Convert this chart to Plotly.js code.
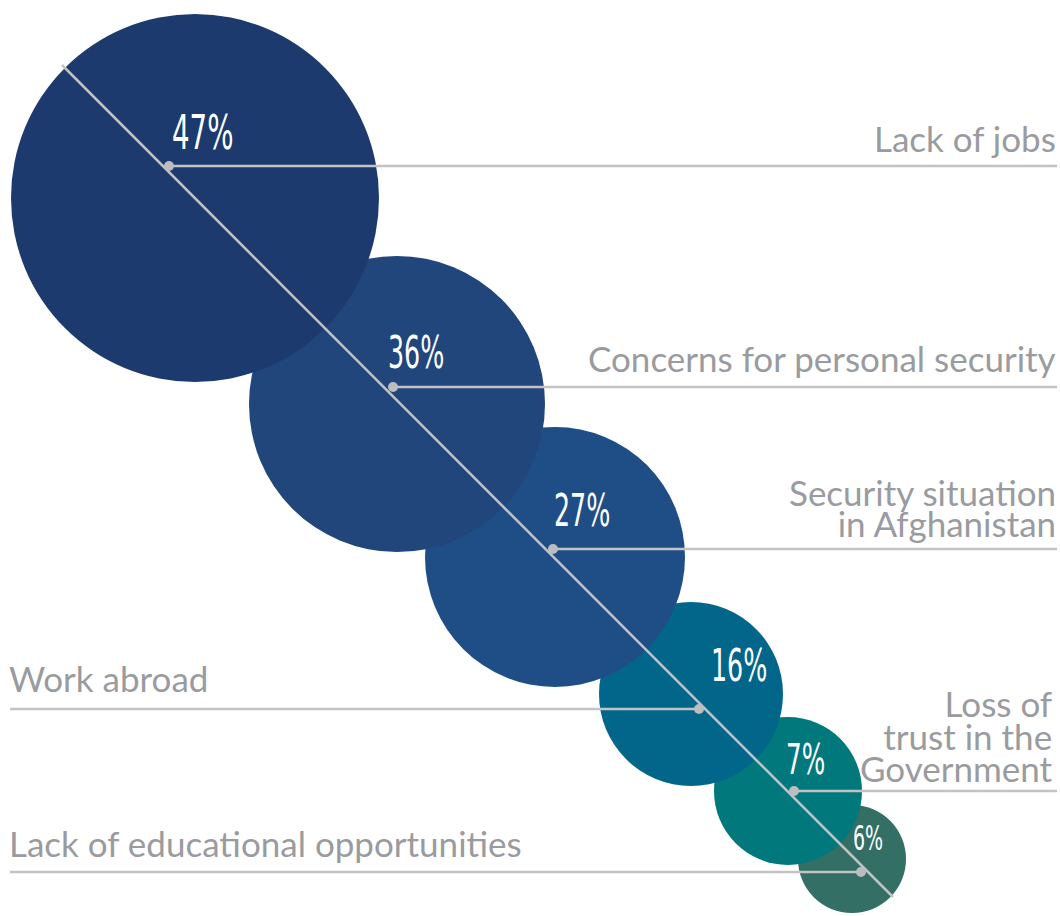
<!DOCTYPE html>
<html><head><meta charset="utf-8">
<script src="https://cdn.plot.ly/plotly-3.0.1.min.js"></script>
<style>html,body{margin:0;padding:0;background:#fff;}</style>
</head><body><div id="chart" style="width:1060px;height:916px;"></div>
<script>
// ---- data ----
const categories = ["Lack of jobs", "Concerns for personal security", "Security situation<br>in Afghanistan", "Work abroad", "Loss of<br>trust in the<br>Government", "Lack of educational opportunities"];
const values = [47, 36, 27, 16, 7, 6];
const valueLabels = values.map(v => v + '%');

// ---- layout geometry (chart pixel coordinates) ----
const circleCX = [195, 397, 555, 691, 788, 852];
const circleCY = [198, 404, 557, 694, 791, 859];
const circleR = [184, 148, 130, 92, 74, 54];
const circleColors = ['#1c3a6e', '#20467c', '#1f4e87', '#02668a', '#00787c', '#336f65'];
const dotX = [169, 393, 553, 699, 794, 861];
const dotY = [166, 387, 549, 709, 791, 872];
const labelSide = ['right', 'right', 'right', 'left', 'right', 'left'];
const labelEdgeX = [1057, 1057, 1057, 8, 1054, 8];
const labelFirstBaseline = [153, 373, 507, 693, 718, 858];
const labelLineGap = [0, 0, 31, 0, 32.5, 0];
const pctLeft = [171, 387, 553, 710, 785, 852];
const pctBaseline = [150, 369, 527, 682, 775, 851];
const pctSize = [48, 44, 44, 44, 43, 33];
const diagX = [62, 893];
const diagY = [65, 897];
const rightEdge = 1057, leftEdge = 10;
const lineColor = '#c3c3c6';
const labelColor = '#9a9b9f';
const labelSize = 35;
const pctSqueeze = 0.64;

const shapes = [];
for (let i = values.length - 1; i >= 0; i--) {
  shapes.push({type: 'circle', xref: 'x', yref: 'y', layer: 'below',
    x0: circleCX[i] - circleR[i], x1: circleCX[i] + circleR[i],
    y0: circleCY[i] - circleR[i], y1: circleCY[i] + circleR[i],
    fillcolor: circleColors[i], line: {width: 0}});
}

const traces = [];
traces.push({x: diagX, y: diagY, mode: 'lines', line: {color: lineColor, width: 2.5}, hoverinfo: 'skip'});
for (let i = 0; i < values.length; i++) {
  const xEnd = labelSide[i] === 'right' ? rightEdge : leftEdge;
  traces.push({x: [dotX[i], xEnd], y: [dotY[i], dotY[i]], mode: 'lines',
    line: {color: lineColor, width: 2.5}, hoverinfo: 'skip'});
}
traces.push({x: dotX, y: dotY, mode: 'markers', marker: {color: '#bdbdc0', size: 10}, hoverinfo: 'skip'});

const annotations = [];
for (let i = 0; i < values.length; i++) {
  annotations.push({xref: 'x', yref: 'y', x: pctLeft[i], y: pctBaseline[i] + 0.236 * pctSize[i],
    xanchor: 'left', yanchor: 'bottom', showarrow: false, borderpad: 0,
    text: valueLabels[i],
    font: {family: 'DejaVu Sans Condensed, DejaVu Sans, sans-serif', size: pctSize[i], color: '#ffffff'}});
}
for (let i = 0; i < categories.length; i++) {
  annotations.push({xref: 'x', yref: 'y',
    x: labelEdgeX[i],
    y: labelFirstBaseline[i] - 1.044 * labelSize,
    xanchor: labelSide[i], yanchor: 'top', align: labelSide[i], showarrow: false, borderpad: 0,
    text: categories[i], font: {family: 'Lato, sans-serif', size: labelSize, color: labelColor}});
}

const layout = {
  width: 1060, height: 916,
  margin: {l: 0, r: 0, t: 0, b: 0, pad: 0},
  paper_bgcolor: '#ffffff', plot_bgcolor: '#ffffff',
  showlegend: false,
  xaxis: {range: [0, 1060], visible: false, fixedrange: true},
  yaxis: {range: [916, 0], visible: false, fixedrange: true},
  shapes: shapes, annotations: annotations
};

Plotly.newPlot('chart', traces, layout, {staticPlot: true, displayModeBar: false}).then(() => {
  for (let i = 0; i < values.length; i++) {
    const t = document.querySelector('.annotation[data-index="' + i + '"] text.annotation-text');
    if (t) {
      t.style.transformBox = 'fill-box';
      t.style.transformOrigin = 'left bottom';
      t.style.transform = 'scaleX(' + pctSqueeze + ')';
    }
  }
  for (let i = 0; i < categories.length; i++) {
    if (!labelLineGap[i]) continue;
    const idx = values.length + i;
    const lines = document.querySelectorAll('.annotation[data-index="' + idx + '"] text.annotation-text tspan.line');
    lines.forEach((ln, k) => ln.setAttribute('dy', (k * labelLineGap[i]) + 'px'));
  }
});
</script>
</body></html>
